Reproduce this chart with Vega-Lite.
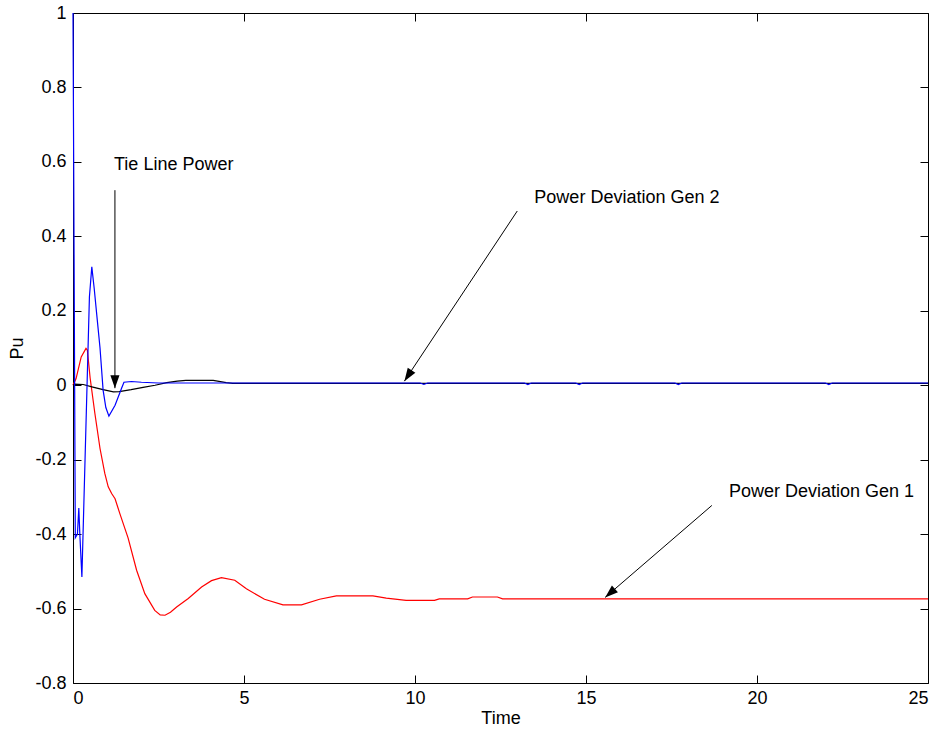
{
  "$schema": "https://vega.github.io/schema/vega-lite/v6.json",
  "width": 855,
  "height": 670,
  "autosize": {"type": "none"},
  "padding": {"left": 73, "top": 13, "right": 10, "bottom": 54},
  "background": "white",
  "config": {
    "view": {"stroke": null},
    "font": "Liberation Sans",
    "axis": {
      "grid": false,
      "domainColor": "black",
      "domainWidth": 1,
      "tickColor": "black",
      "tickSize": -8,
      "labelColor": "black",
      "labelFont": "Liberation Sans",
      "labelFontSize": 18,
      "titleFont": "Liberation Sans",
      "titleFontSize": 18,
      "titleFontWeight": "normal",
      "titleColor": "black"
    }
  },
  "datasets": {
    "curves": [
      {"t": 0, "v": 0, "s": "Gen 1"},
      {"t": 0.09, "v": 0.018, "s": "Gen 1"},
      {"t": 0.24, "v": 0.076, "s": "Gen 1"},
      {"t": 0.38, "v": 0.099, "s": "Gen 1"},
      {"t": 0.42, "v": 0.094, "s": "Gen 1"},
      {"t": 0.5, "v": 0.02, "s": "Gen 1"},
      {"t": 0.64, "v": -0.076, "s": "Gen 1"},
      {"t": 0.79, "v": -0.17, "s": "Gen 1"},
      {"t": 0.93, "v": -0.237, "s": "Gen 1"},
      {"t": 1.03, "v": -0.273, "s": "Gen 1"},
      {"t": 1.13, "v": -0.291, "s": "Gen 1"},
      {"t": 1.23, "v": -0.305, "s": "Gen 1"},
      {"t": 1.37, "v": -0.345, "s": "Gen 1"},
      {"t": 1.61, "v": -0.41, "s": "Gen 1"},
      {"t": 1.86, "v": -0.497, "s": "Gen 1"},
      {"t": 2.1, "v": -0.56, "s": "Gen 1"},
      {"t": 2.39, "v": -0.605, "s": "Gen 1"},
      {"t": 2.55, "v": -0.617, "s": "Gen 1"},
      {"t": 2.69, "v": -0.618, "s": "Gen 1"},
      {"t": 2.85, "v": -0.61, "s": "Gen 1"},
      {"t": 3.03, "v": -0.596, "s": "Gen 1"},
      {"t": 3.37, "v": -0.573, "s": "Gen 1"},
      {"t": 3.76, "v": -0.542, "s": "Gen 1"},
      {"t": 4.05, "v": -0.525, "s": "Gen 1"},
      {"t": 4.34, "v": -0.517, "s": "Gen 1"},
      {"t": 4.73, "v": -0.524, "s": "Gen 1"},
      {"t": 5.07, "v": -0.547, "s": "Gen 1"},
      {"t": 5.6, "v": -0.575, "s": "Gen 1"},
      {"t": 6.14, "v": -0.59, "s": "Gen 1"},
      {"t": 6.68, "v": -0.59, "s": "Gen 1"},
      {"t": 7.21, "v": -0.575, "s": "Gen 1"},
      {"t": 7.7, "v": -0.566, "s": "Gen 1"},
      {"t": 8.77, "v": -0.566, "s": "Gen 1"},
      {"t": 9.16, "v": -0.572, "s": "Gen 1"},
      {"t": 9.74, "v": -0.578, "s": "Gen 1"},
      {"t": 10.57, "v": -0.578, "s": "Gen 1"},
      {"t": 10.71, "v": -0.574, "s": "Gen 1"},
      {"t": 11.54, "v": -0.574, "s": "Gen 1"},
      {"t": 11.68, "v": -0.569, "s": "Gen 1"},
      {"t": 12.41, "v": -0.569, "s": "Gen 1"},
      {"t": 12.56, "v": -0.574, "s": "Gen 1"},
      {"t": 25, "v": -0.574, "s": "Gen 1"},
      {"t": 0, "v": 0, "s": "Tie"},
      {"t": 0.05, "v": 0.003, "s": "Tie"},
      {"t": 0.3, "v": 0.002, "s": "Tie"},
      {"t": 0.58, "v": -0.005, "s": "Tie"},
      {"t": 0.88, "v": -0.012, "s": "Tie"},
      {"t": 1.18, "v": -0.018, "s": "Tie"},
      {"t": 1.35, "v": -0.017, "s": "Tie"},
      {"t": 1.7, "v": -0.012, "s": "Tie"},
      {"t": 2.05, "v": -0.006, "s": "Tie"},
      {"t": 2.4, "v": 0.0, "s": "Tie"},
      {"t": 2.74, "v": 0.007, "s": "Tie"},
      {"t": 3.05, "v": 0.011, "s": "Tie"},
      {"t": 3.3, "v": 0.013, "s": "Tie"},
      {"t": 4.1, "v": 0.013, "s": "Tie"},
      {"t": 4.48, "v": 0.007, "s": "Tie"},
      {"t": 4.67, "v": 0.005, "s": "Tie"},
      {"t": 6, "v": 0.005, "s": "Tie"},
      {"t": 25, "v": 0.005, "s": "Tie"},
      {"t": 0, "v": 1.0, "s": "Gen 2"},
      {"t": 0.02, "v": 0.6, "s": "Gen 2"},
      {"t": 0.067, "v": -0.41, "s": "Gen 2"},
      {"t": 0.13, "v": -0.4, "s": "Gen 2"},
      {"t": 0.17, "v": -0.33, "s": "Gen 2"},
      {"t": 0.2, "v": -0.4, "s": "Gen 2"},
      {"t": 0.26, "v": -0.515, "s": "Gen 2"},
      {"t": 0.48, "v": 0.237, "s": "Gen 2"},
      {"t": 0.55, "v": 0.318, "s": "Gen 2"},
      {"t": 0.62, "v": 0.26, "s": "Gen 2"},
      {"t": 0.71, "v": 0.175, "s": "Gen 2"},
      {"t": 0.79, "v": 0.1, "s": "Gen 2"},
      {"t": 0.88, "v": -0.013, "s": "Gen 2"},
      {"t": 0.96, "v": -0.06, "s": "Gen 2"},
      {"t": 1.05, "v": -0.083, "s": "Gen 2"},
      {"t": 1.23, "v": -0.054, "s": "Gen 2"},
      {"t": 1.42, "v": -0.008, "s": "Gen 2"},
      {"t": 1.49, "v": 0.008, "s": "Gen 2"},
      {"t": 1.71, "v": 0.01, "s": "Gen 2"},
      {"t": 2.0, "v": 0.008, "s": "Gen 2"},
      {"t": 2.5, "v": 0.006, "s": "Gen 2"},
      {"t": 10.15, "v": 0.006, "s": "Gen 2"},
      {"t": 10.26, "v": 0.002, "s": "Gen 2"},
      {"t": 10.37, "v": 0.006, "s": "Gen 2"},
      {"t": 13.2, "v": 0.006, "s": "Gen 2"},
      {"t": 13.3, "v": 0.002, "s": "Gen 2"},
      {"t": 13.4, "v": 0.006, "s": "Gen 2"},
      {"t": 14.7, "v": 0.006, "s": "Gen 2"},
      {"t": 14.8, "v": 0.002, "s": "Gen 2"},
      {"t": 14.9, "v": 0.006, "s": "Gen 2"},
      {"t": 17.6, "v": 0.006, "s": "Gen 2"},
      {"t": 17.7, "v": 0.002, "s": "Gen 2"},
      {"t": 17.8, "v": 0.006, "s": "Gen 2"},
      {"t": 22.0, "v": 0.006, "s": "Gen 2"},
      {"t": 22.1, "v": 0.002, "s": "Gen 2"},
      {"t": 22.2, "v": 0.006, "s": "Gen 2"},
      {"t": 25, "v": 0.006, "s": "Gen 2"}
    ],
    "arrows": [
      {"name": "tie", "t": 1.226, "v": 0.524, "t2": 1.226, "v2": -0.008},
      {"name": "gen2", "t": 12.99, "v": 0.468, "t2": 9.69, "v2": 0.011},
      {"name": "gen1", "t": 18.68, "v": -0.323, "t2": 15.56, "v2": -0.57}
    ],
    "labels": [
      {"t": 1.2, "v": 0.591, "label": "Tie Line Power"},
      {"t": 13.49, "v": 0.503, "label": "Power Deviation Gen 2"},
      {"t": 19.18, "v": -0.288, "label": "Power Deviation Gen 1"}
    ]
  },
  "resolve": {"axis": {"x": "independent", "y": "independent"}},
  "layer": [
    {
      "data": {"name": "curves"},
      "mark": {"type": "line", "strokeWidth": 1.2},
      "encoding": {
        "x": {
          "field": "t", "type": "quantitative",
          "scale": {"domain": [0, 25], "nice": false, "zero": false},
          "axis": {"orient": "bottom", "values": [0, 5, 10, 15, 20, 25], "title": "Time", "labelPadding": 14, "titlePadding": 2}
        },
        "y": {
          "field": "v", "type": "quantitative",
          "scale": {"domain": [-0.8, 1], "nice": false, "zero": false},
          "axis": {
            "orient": "left",
            "values": [-0.8, -0.6, -0.4, -0.2, 0, 0.2, 0.4, 0.6, 0.8, 1],
            "labelExpr": "datum.value < -0.0001 ? '-' + format(-datum.value, '~g') : format(abs(datum.value) < 0.0001 ? 0 : datum.value, '~g')",
            "title": "Pu",
            "labelPadding": 15,
            "titlePadding": 8
          }
        },
        "color": {
          "field": "s", "type": "nominal",
          "scale": {"domain": ["Gen 1", "Tie", "Gen 2"], "range": ["#ff0000", "#000000", "#0000ff"]},
          "legend": null
        }
      }
    },
    {
      "data": {"name": "arrows"},
      "mark": {"type": "rule", "color": "black", "strokeWidth": 1},
      "encoding": {
        "x": {"field": "t", "type": "quantitative", "axis": null},
        "y": {"field": "v", "type": "quantitative", "axis": null},
        "x2": {"field": "t2"},
        "y2": {"field": "v2"}
      }
    },
    {
      "data": {"name": "arrows"},
      "transform": [{"filter": "datum.name == 'tie'"}],
      "mark": {"type": "point", "shape": "M0,0L-0.35,-1L0.35,-1Z", "filled": true, "color": "black", "opacity": 1, "size": 676, "angle": 0},
      "encoding": {
        "x": {"field": "t2", "type": "quantitative", "axis": null},
        "y": {"field": "v2", "type": "quantitative", "axis": null}
      }
    },
    {
      "data": {"name": "arrows"},
      "transform": [{"filter": "datum.name == 'gen2'"}],
      "mark": {"type": "point", "shape": "M0,0L-0.35,1L0.35,1Z", "filled": true, "color": "black", "opacity": 1, "size": 676, "angle": 213.5},
      "encoding": {
        "x": {"field": "t2", "type": "quantitative", "axis": null},
        "y": {"field": "v2", "type": "quantitative", "axis": null}
      }
    },
    {
      "data": {"name": "arrows"},
      "transform": [{"filter": "datum.name == 'gen1'"}],
      "mark": {"type": "point", "shape": "M0,0L-0.35,1L0.35,1Z", "filled": true, "color": "black", "opacity": 1, "size": 676, "angle": 228.8},
      "encoding": {
        "x": {"field": "t2", "type": "quantitative", "axis": null},
        "y": {"field": "v2", "type": "quantitative", "axis": null}
      }
    },
    {
      "data": {"name": "labels"},
      "mark": {"type": "text", "align": "left", "baseline": "middle", "fontSize": 18, "font": "Liberation Sans", "color": "black"},
      "encoding": {
        "x": {
          "field": "t", "type": "quantitative",
          "axis": {"orient": "top", "values": [0, 5, 10, 15, 20, 25], "labels": false, "title": null}
        },
        "y": {
          "field": "v", "type": "quantitative",
          "axis": {"orient": "right", "values": [-0.8, -0.6, -0.4, -0.2, 0, 0.2, 0.4, 0.6, 0.8, 1], "labels": false, "title": null}
        },
        "text": {"field": "label"}
      }
    }
  ]
}
